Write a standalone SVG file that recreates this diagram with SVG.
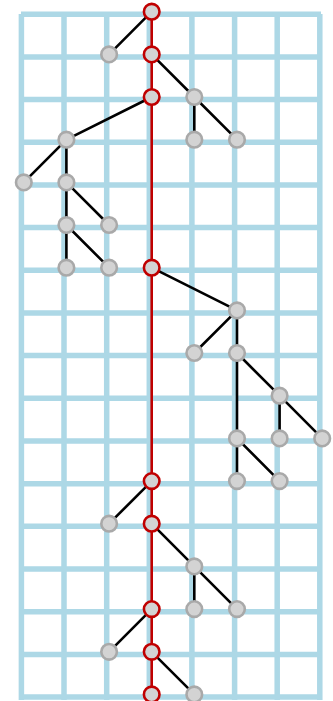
<svg xmlns="http://www.w3.org/2000/svg" width="333" height="701" viewBox="0 0 333 701">
<style>
.grid{stroke:#ADD8E6;stroke-width:5.5;fill:none}
.e{stroke:#000;stroke-width:2.6;fill:none}
.t{stroke:#C00000;stroke-width:2.6;fill:none}
.n{fill:#D3D3D3;stroke:#A9A9A9;stroke-width:2.6}
.r{fill:#D3D3D3;stroke:#C00000;stroke-width:2.6}
</style>
<rect width="333" height="701" fill="#fff"/>
<g id="grid" class="grid">
<path d="M21.4 14V700M64 14V700M106.7 14V700M149.3 14V700M191.9 14V700M234.6 14V700M277.2 14V700M319.8 14V700"/>
<path d="M21 14.3H321M21 57H321M21 99.6H321M21 142.3H321M21 185H321M21 227.6H321M21 270.3H321M21 313H321M21 355.6H321M21 398.3H321M21 441H321M21 483.7H321M21 526.3H321M21 569H321M21 611.7H321M21 654.4H321M21 697H321"/>
</g>
<g id="connectors">
<path class="t" d="M151.7 11.7V694.4"/>
<path class="e" d="M151.7 11.7L109.1 54.4M151.7 54.4L194.3 97M194.3 97V139.7M194.3 97L237 139.7M151.7 97L66.4 139.7M66.4 139.7L23.8 182.4M66.4 139.7V182.4M66.4 182.4V225M66.4 182.4L109.1 225M66.4 225V267.7M66.4 225L109.1 267.7M151.7 267.7L237 310.4M237 310.4L194.3 353M237 310.4V353M237 353L279.6 395.7M237 353V438.4M279.6 395.7V438.4M279.6 395.7L322.2 438.4M237 438.4V481.1M237 438.4L279.6 481.1M151.7 481.1L109.1 523.7M151.7 523.7L194.3 566.4M194.3 566.4V609.1M194.3 566.4L237 609.1M151.7 609.1L109.1 651.8M151.7 651.8L194.3 694.4"/>
</g>
<g id="n3_0"><circle class="r" cx="151.7" cy="11.7" r="7.8"/></g>
<g id="n2_1"><circle class="n" cx="109.1" cy="54.4" r="7.8"/></g>
<g id="n3_1"><circle class="r" cx="151.7" cy="54.4" r="7.8"/></g>
<g id="n3_2"><circle class="r" cx="151.7" cy="97" r="7.8"/></g>
<g id="n4_2"><circle class="n" cx="194.3" cy="97" r="7.8"/></g>
<g id="n1_3"><circle class="n" cx="66.4" cy="139.7" r="7.8"/></g>
<g id="n4_3"><circle class="n" cx="194.3" cy="139.7" r="7.8"/></g>
<g id="n5_3"><circle class="n" cx="237" cy="139.7" r="7.8"/></g>
<g id="n0_4"><circle class="n" cx="23.8" cy="182.4" r="7.8"/></g>
<g id="n1_4"><circle class="n" cx="66.4" cy="182.4" r="7.8"/></g>
<g id="n1_5"><circle class="n" cx="66.4" cy="225" r="7.8"/></g>
<g id="n2_5"><circle class="n" cx="109.1" cy="225" r="7.8"/></g>
<g id="n1_6"><circle class="n" cx="66.4" cy="267.7" r="7.8"/></g>
<g id="n2_6"><circle class="n" cx="109.1" cy="267.7" r="7.8"/></g>
<g id="n3_6"><circle class="r" cx="151.7" cy="267.7" r="7.8"/></g>
<g id="n5_7"><circle class="n" cx="237" cy="310.4" r="7.8"/></g>
<g id="n4_8"><circle class="n" cx="194.3" cy="353" r="7.8"/></g>
<g id="n5_8"><circle class="n" cx="237" cy="353" r="7.8"/></g>
<g id="n6_9"><circle class="n" cx="279.6" cy="395.7" r="7.8"/></g>
<g id="n5_10"><circle class="n" cx="237" cy="438.4" r="7.8"/></g>
<g id="n6_10"><circle class="n" cx="279.6" cy="438.4" r="7.8"/></g>
<g id="n7_10"><circle class="n" cx="322.2" cy="438.4" r="7.8"/></g>
<g id="n3_11"><circle class="r" cx="151.7" cy="481.1" r="7.8"/></g>
<g id="n5_11"><circle class="n" cx="237" cy="481.1" r="7.8"/></g>
<g id="n6_11"><circle class="n" cx="279.6" cy="481.1" r="7.8"/></g>
<g id="n2_12"><circle class="n" cx="109.1" cy="523.7" r="7.8"/></g>
<g id="n3_12"><circle class="r" cx="151.7" cy="523.7" r="7.8"/></g>
<g id="n4_13"><circle class="n" cx="194.3" cy="566.4" r="7.8"/></g>
<g id="n3_14"><circle class="r" cx="151.7" cy="609.1" r="7.8"/></g>
<g id="n4_14"><circle class="n" cx="194.3" cy="609.1" r="7.8"/></g>
<g id="n5_14"><circle class="n" cx="237" cy="609.1" r="7.8"/></g>
<g id="n2_15"><circle class="n" cx="109.1" cy="651.8" r="7.8"/></g>
<g id="n3_15"><circle class="r" cx="151.7" cy="651.8" r="7.8"/></g>
<g id="n3_16"><circle class="r" cx="151.7" cy="694.4" r="7.8"/></g>
<g id="n4_16"><circle class="n" cx="194.3" cy="694.4" r="7.8"/></g>
</svg>
